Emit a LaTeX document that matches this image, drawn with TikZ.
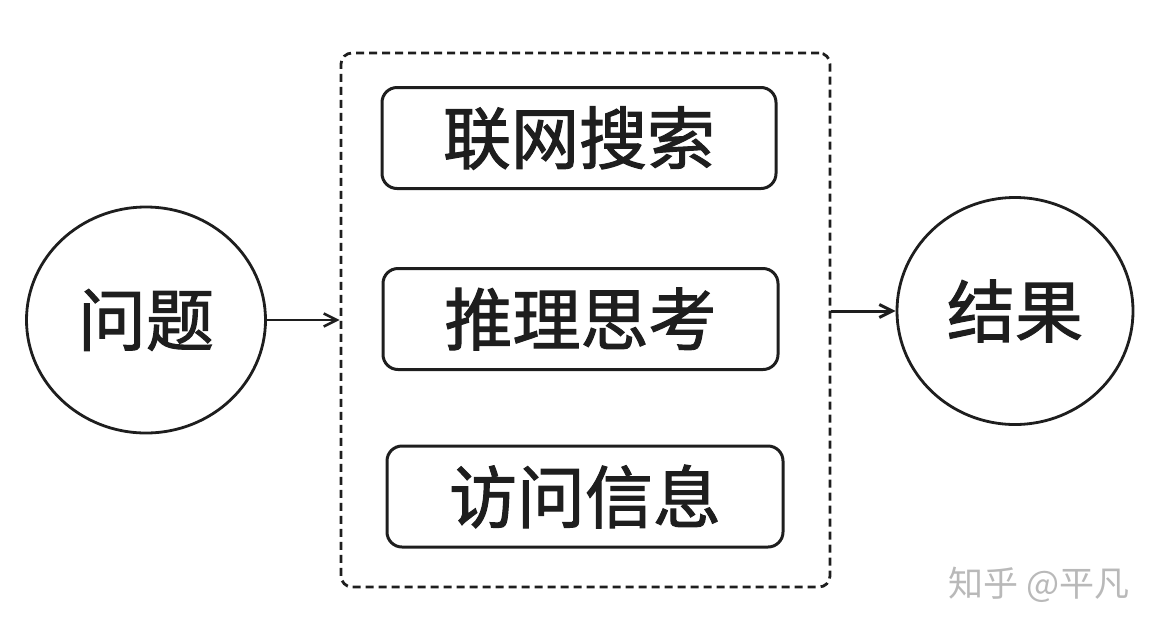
\documentclass[tikz,border=0pt]{standalone}
\usepackage{fontspec}
\setmainfont{Noto Sans CJK SC}
\newfontfamily\heavycjk{Noto Sans CJK SC}[FakeBold=1.6]
\usepackage{tikz}
\usetikzlibrary{arrows.meta}
\usetikzlibrary{shapes,positioning}
\tikzset{>={Straight Barb[length=13pt,width=13pt]}}
\definecolor{ink}{RGB}{30,30,30}
\definecolor{markgray}{RGB}{185,185,185}

\begin{document}
\begin{tikzpicture}[x=1pt,y=-1pt,
  roundball/.style={draw=ink,line width=2.8pt,ellipse,inner sep=0pt,
    minimum width=239pt,minimum height=226pt,
    font=\heavycjk\fontsize{68}{80}\selectfont,text=ink},
  taskbox/.style={draw=ink,line width=3pt,rounded corners=15pt,
    minimum width=394pt,minimum height=101pt,inner sep=0pt,
    font=\heavycjk\fontsize{68}{80}\selectfont,text=ink},
  groupbox/.style={draw=ink,line width=2.8pt,dash pattern=on 8pt off 5pt,
    rounded corners=11pt,minimum width=489pt,minimum height=534pt}]
  \useasboundingbox (0,0) rectangle (1159,633);

  \node [roundball] (problem) at (146,320) {问题};
  \node [roundball,minimum width=236pt,minimum height=227pt] (result) at (1015,311) {结果};

  \node [groupbox] (group) at (585.5,320) {};
  \node [taskbox] (search) at (579,138) {联网搜索};
  \node [taskbox,minimum width=395pt] (reason) at (580.5,319) {推理思考};
  \node [taskbox,minimum width=396pt] (visit) at (585,496.5) {访问信息};

  \draw [->,ink,line width=2.6pt] (problem.east) -- (problem.east -| group.west);
  \draw [->,ink,line width=3pt] (group.east |- result.west) -- (result.west);

  \node [text=markgray,font=\fontsize{35}{40}\selectfont,anchor=west,inner sep=0pt] (mark) at (948,585) {知乎 @平凡};

\end{tikzpicture}
\end{document}
